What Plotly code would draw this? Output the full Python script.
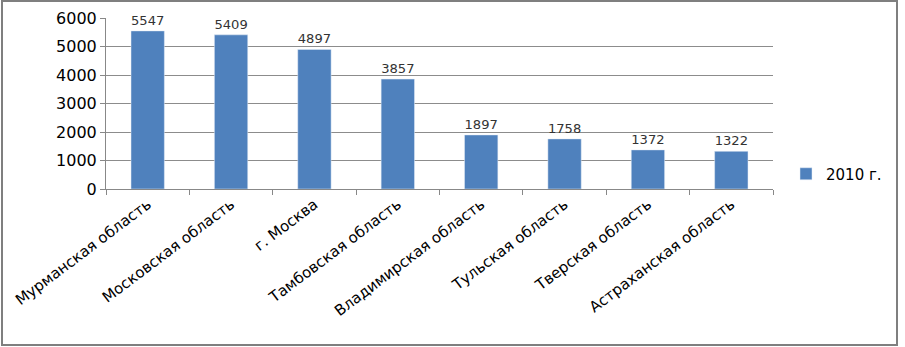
import plotly.graph_objects as go

categories = ["Мурманская область", "Московская область", "г. Москва", "Тамбовская область",
              "Владимирская область", "Тульская область", "Тверская область", "Астраханская область"]
values_2010 = [5547, 5409, 4897, 3857, 1897, 1758, 1372, 1322]
series_name = "2010 г."
y_ticks = [0, 1000, 2000, 3000, 4000, 5000, 6000]

W, H = 905, 347
L, R, T, B = 106, 132, 18, 158
pw, ph = W - L - R, H - T - B

fig = go.Figure()
fig.add_trace(go.Bar(
    x=categories, y=values_2010, name=series_name,
    marker=dict(color="#4F81BD"),
    text=[str(v) for v in values_2010], textposition="outside",
    textfont=dict(size=16, color="#333333"),
    cliponaxis=False,
))

font_family = "DejaVu Sans, sans-serif"
fig.update_layout(
    width=W, height=H, autosize=False,
    margin=dict(l=L, r=R, t=T, b=B),
    paper_bgcolor="white", plot_bgcolor="white",
    font=dict(family=font_family, size=14, color="#000000"),
    bargap=0.6,
    showlegend=True,
    legend=dict(xref="container", yref="container", x=786 / W, y=1 - 174 / H,
                yanchor="middle", xanchor="left",
                font=dict(size=15), bgcolor="rgba(0,0,0,0)", itemwidth=30),
    xaxis=dict(showline=True, linecolor="#888888", linewidth=1, automargin=False,
               ticks="outside", tickson="boundaries", ticklen=5, tickcolor="#888888",
               tickangle=-37, tickfont=dict(size=15)),
    yaxis=dict(range=[0, 6000], tickvals=y_ticks, showgrid=True, gridcolor="#8c8c8c",
               showline=True, linecolor="#888888", linewidth=1, ticks="outside", automargin=False,
               ticklen=5, tickcolor="#888888", tickfont=dict(size=16), zeroline=False),
)
fig.add_shape(type="rect", xref="paper", yref="paper",
              x0=(2 - L) / pw, x1=(897 - L) / pw, y0=(189 - 345) / ph, y1=(189 - 1) / ph,
              line=dict(color="#7f7f7f", width=2), fillcolor="rgba(0,0,0,0)", layer="below")

post = ("document.body.style.margin='0';"
        "var gd=document.querySelector('.plotly-graph-div');"
        f"Plotly.relayout(gd,'width',{W}).then(()=>Plotly.relayout(gd,'height',{H}));")
fig.write_html("out.html", post_script=post,
               config=dict(displayModeBar=False, responsive=False))
